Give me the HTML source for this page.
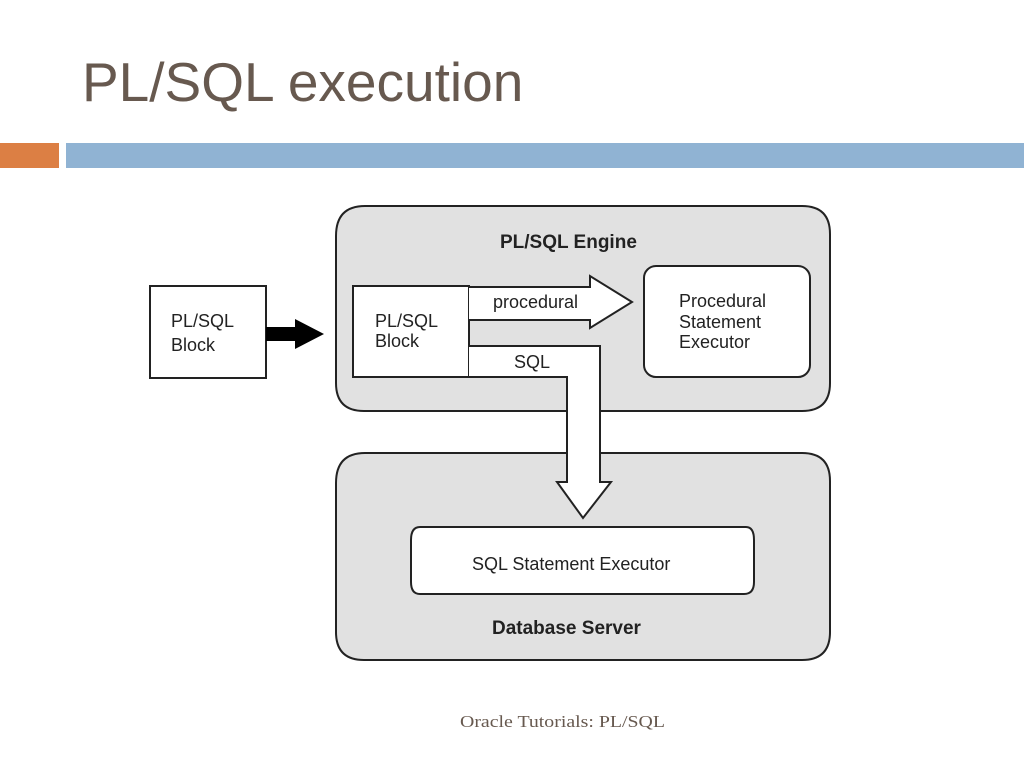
<!DOCTYPE html>
<html><head><style>
body{margin:0;width:1024px;height:768px;background:#fff;overflow:hidden;position:relative;font-family:"Liberation Sans",sans-serif}
.t{position:absolute;left:82px;top:50px;font-size:55px;color:#67594f;font-family:"Liberation Sans",sans-serif}
</style></head><body>
<div class="t">PL/SQL execution</div>
<svg width="1024" height="768" style="position:absolute;left:0;top:0">
<rect x="0" y="143" width="59" height="25" fill="#dc7f44"/>
<rect x="66" y="143" width="958" height="25" fill="#90b3d3"/>
<g stroke="#222" stroke-width="2" font-family="Liberation Sans, sans-serif">
<path d="M365,206 H802 Q830,206 830,234 V383 Q830,411 802,411 H364 Q336,411 336,383 V236 Q336,206 365,206Z" fill="#e1e1e1"/>
<path d="M365,453 H802 Q830,453 830,481 V632 Q830,660 802,660 H364 Q336,660 336,632 V483 Q336,453 365,453Z" fill="#e1e1e1"/>
<rect x="150" y="286" width="116" height="92" fill="#fff"/>
<path d="M266,327 H295 V319 L324,334 L295,349 V341 H266Z" fill="#000" stroke="none"/>
<rect x="353" y="286" width="116" height="91" fill="#fff"/>
<rect x="644" y="266" width="166" height="111" rx="12" fill="#fff"/>
<path d="M469,287 H590 V276 L632,302 L590,328 V320 H469" fill="#fff"/>
<path d="M469,346 H600 V482 H611 L583,518 L557,482 H567 V377 H469" fill="#fff"/>
<path d="M420,527 H746 Q754,527 754,540 V582 Q754,594 744,594 H420 Q411,594 411,582 V540 Q411,527 420,527Z" fill="#fff"/>
</g>
<g font-family="Liberation Sans, sans-serif" fill="#222" font-size="18">
<text x="500" y="248" font-weight="bold" font-size="19">PL/SQL Engine</text>
<text x="171" y="327">PL/SQL</text><text x="171" y="351">Block</text>
<text x="375" y="327">PL/SQL</text><text x="375" y="347">Block</text>
<text x="493" y="308">procedural</text>
<text x="514" y="368">SQL</text>
<text x="679" y="307">Procedural</text><text x="679" y="328">Statement</text><text x="679" y="348">Executor</text>
<text x="472" y="570">SQL Statement Executor</text>
<text x="492" y="634" font-weight="bold" font-size="19">Database Server</text>
</g>
<text x="460" y="727" font-family="Liberation Serif, serif" font-size="17" fill="#67594f" textLength="205" lengthAdjust="spacingAndGlyphs">Oracle Tutorials: PL/SQL</text>
</svg>
</body></html>
